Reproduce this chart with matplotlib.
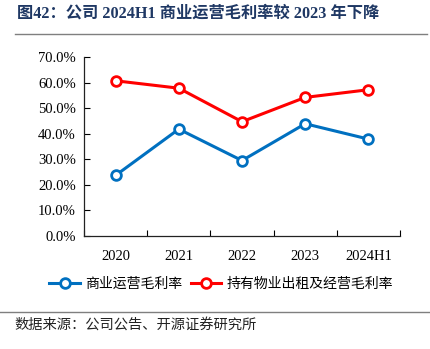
import matplotlib.pyplot as plt
from matplotlib.ticker import PercentFormatter
from matplotlib.lines import Line2D

plt.rcParams['font.family'] = ['Noto Sans CJK SC', 'DejaVu Sans']

# 毛利率数据（%）
years = ['2020', '2021', '2022', '2023', '2024H1']
commercial_margin = [23.7, 41.8, 29.5, 43.9, 37.9]
property_margin = [60.7, 57.8, 44.7, 54.2, 57.2]

blue = '#0070C0'
red = '#FF0000'

fig = plt.figure(figsize=(4.30, 3.49), dpi=100)
ax = fig.add_axes([84 / 430, 1 - 236 / 349, 316 / 430, 179 / 349])

x = range(len(years))
ax.plot(x, commercial_margin, color=blue, lw=2.2, marker='o', ms=7,
        mfc='white', mec=blue, mew=2, label='商业运营毛利率')
ax.plot(x, property_margin, color=red, lw=2.2, marker='o', ms=7,
        mfc='white', mec=red, mew=2, label='持有物业出租及经营毛利率')

ax.set_xlim(-0.5, len(years) - 0.5)
ax.set_ylim(0, 70)
ax.set_yticks(range(0, 71, 10))
ax.yaxis.set_major_formatter(PercentFormatter(decimals=1))

# 分类轴刻度放在类别边界上
ax.set_xticks([i - 0.5 for i in range(len(years) + 1)])
ax.set_xticklabels([])
ax.set_xticks(list(x), minor=True)
ax.set_xticklabels(years, minor=True, family='Liberation Serif', fontsize=10.5)
ax.tick_params(axis='x', which='minor', length=0, pad=10)
ax.tick_params(axis='x', which='major', direction='in', length=4, width=0.8)
ax.tick_params(axis='y', direction='in', length=4, width=0.8, pad=6)
for lbl in ax.get_yticklabels():
    lbl.set_family('Liberation Serif')
    lbl.set_fontsize(10.5)

for side in ['top', 'right']:
    ax.spines[side].set_visible(False)
for side in ['left', 'bottom']:
    ax.spines[side].set_color('#222222')
    ax.spines[side].set_linewidth(0.9)

handles = [
    Line2D([], [], color=blue, lw=2.2, marker='o', ms=7, mfc='white', mec=blue, mew=2),
    Line2D([], [], color=red, lw=2.2, marker='o', ms=7, mfc='white', mec=red, mew=2),
]
fig.legend(handles, ['商业运营毛利率', '持有物业出租及经营毛利率'], loc='center',
           bbox_to_anchor=(0.515, 1 - 284 / 349), ncol=2, frameon=False,
           fontsize=10, handlelength=2.2, handletextpad=0.4, columnspacing=0.6)

# 标题与分隔线（数字用衬线体，中文回落到黑体）
fig.text(17 / 430, 1 - 14 / 349, '图42：公司 2024H1 商业运营毛利率较 2023 年下降',
         family=['Liberation Serif', 'Noto Sans CJK SC'],
         fontsize=11.7, fontweight='bold', color='#1F3864', va='center', ha='left')
fig.add_artist(Line2D([15 / 430, 427 / 430], [1 - 34 / 349, 1 - 34 / 349],
                      color='#7F7F7F', lw=1))
fig.add_artist(Line2D([0, 1], [1 - 312 / 349, 1 - 312 / 349],
                      color='#7F7F7F', lw=1))
fig.text(14 / 430, 1 - 325 / 349, '数据来源：公司公告、开源证券研究所',
         fontsize=10.3, color='#222222', va='center', ha='left')

fig.savefig('out.png', dpi=100)
